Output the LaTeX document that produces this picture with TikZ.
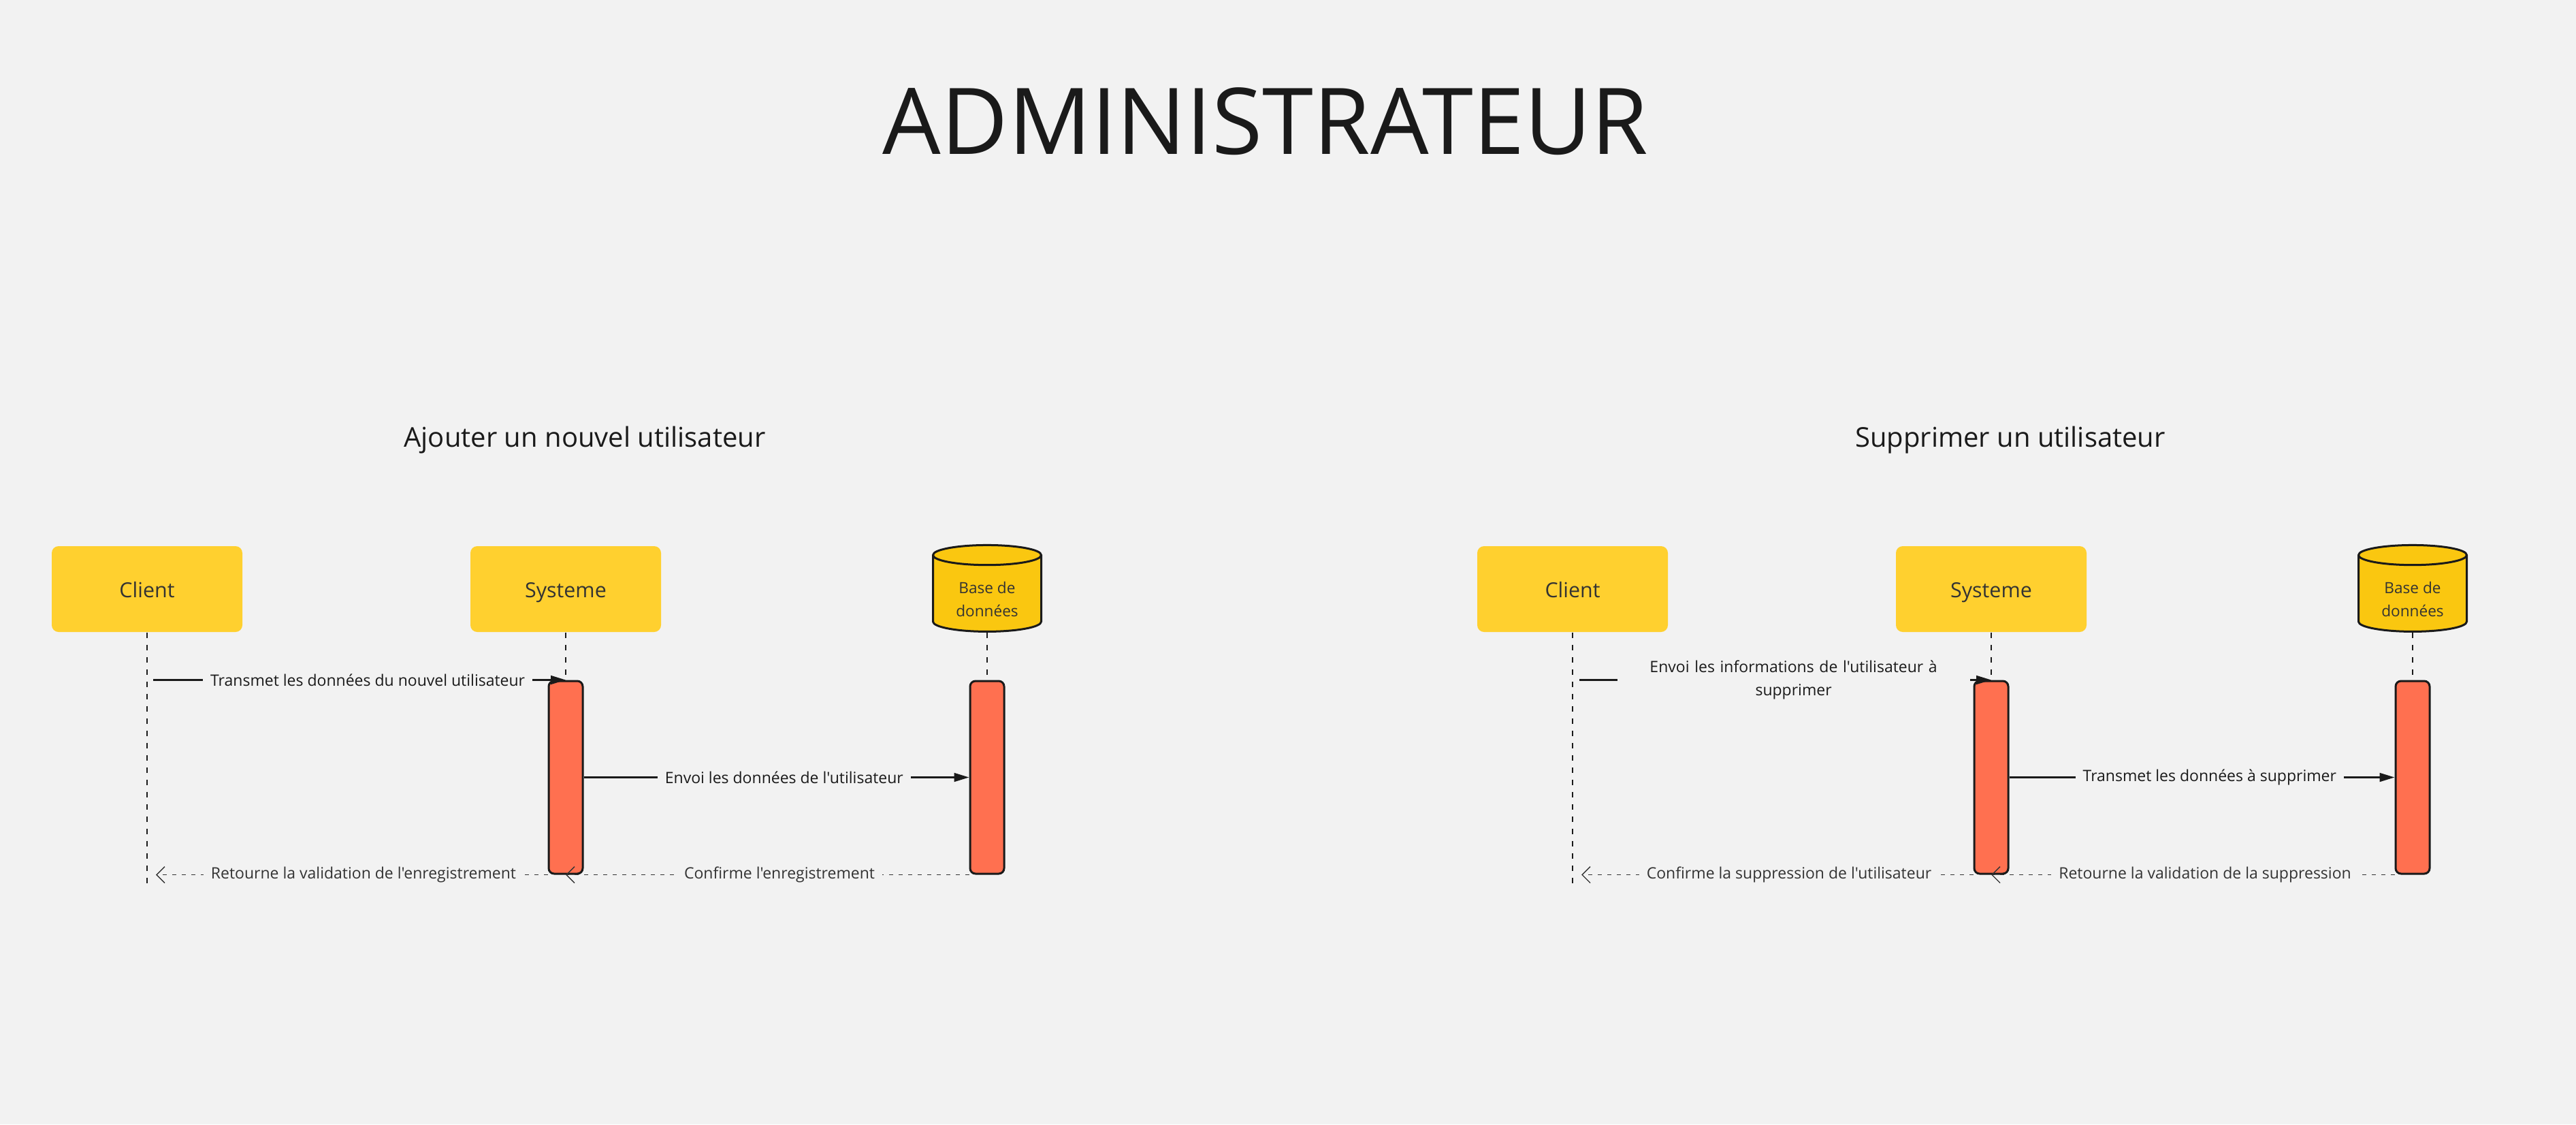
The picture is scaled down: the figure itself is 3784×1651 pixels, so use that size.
\documentclass[tikz,border=0pt]{standalone}
\usepackage{fontspec}
\setmainfont{Open Sans}[Ligatures=TeXOff]
\usetikzlibrary{shapes.geometric,arrows.meta}

\definecolor{fond}{HTML}{F2F2F2}
\definecolor{jaune}{HTML}{FFD02F}
\definecolor{jaunebd}{HTML}{FAC710}
\definecolor{corail}{HTML}{FF7050}
\definecolor{encre}{HTML}{1A1A1A}
\definecolor{gris}{HTML}{333333}

\begin{document}
\begin{tikzpicture}[x=0.25pt,y=-0.25pt,
  acteur/.style={fill=jaune, rounded corners=2.5pt, minimum width=70pt,
    minimum height=31.5pt, text=gris, text height=6.5pt, text depth=0.5pt,
    font=\fontsize{7.6pt}{9pt}\selectfont},
  bdd/.style={cylinder, shape border rotate=90, aspect=0.32, draw=encre,
    line width=0.75pt, fill=jaunebd, minimum width=39.75pt, minimum height=31.75pt,
    inner sep=0pt, text=gris, font=\fontsize{5.65pt}{8.5pt}\selectfont},
  activation/.style={draw=encre, line width=0.75pt, fill=corail, rounded corners=2pt,
    minimum width=12.5pt, minimum height=70.75pt, inner sep=0pt},
  vie/.style={encre, line width=0.45pt, dash pattern=on 2pt off 2.5pt},
  msg/.style={encre, line width=0.6pt, -{Triangle[length=5.5pt,width=3.2pt]}},
  retour/.style={gris, line width=0.35pt, dash pattern=on 1.5pt off 2pt,
    -{Straight Barb[length=3pt,width=6pt,line width=0.35pt]}},
  etiq/.style={fill=fond, inner xsep=2.75pt, inner ysep=1pt, text=encre,
    font=\fontsize{5.75pt}{8.5pt}\selectfont},
]

% Fond
\fill[fond] (0,0) rectangle (3784,1651);
\useasboundingbox (0,0) rectangle (3784,1651);

% Titre
\node[anchor=base, text=encre, font=\fontsize{33.8pt}{40pt}\selectfont] (titre)
at (1859,226) {ADMINISTRATEUR};

% ---- Ajouter un nouvel utilisateur ----
\node[anchor=base, text=encre, font=\fontsize{10pt}{12pt}\selectfont] (titreA)
at (859,656) {Ajouter un nouvel utilisateur};

\node[acteur] (cliA) at (216,865) {Client};
\node[acteur] (sysA) at (831,865) {Systeme};
\node[bdd] (bddA) at (1450,872)
{\raisebox{-2.5pt}[\height][\depth]{\begin{tabular}{@{}c@{}}Base de\\données\end{tabular}}};

\node[activation] (actsysA) at (831,1141.5) {};
\node[activation] (actbddA) at (1450,1141.5) {};

\coordinate (finA) at (216,1298);

% Lignes de vie
\draw[vie] (cliA.south) -- (finA);
\draw[vie] (sysA.south) -- (actsysA.north);
\draw[vie] (bddA.south) -- (actbddA.north);

% Messages
\draw[msg] ([xshift=2.25pt]cliA.south |- actsysA.north) -- (actsysA.north)
node[etiq, pos=0.52] {Transmet les données du nouvel utilisateur};
\draw[msg] (actsysA.east) -- (actbddA.west)
node[etiq, pos=0.52] {Envoi les données de l'utilisateur};
\draw[retour] (actbddA.south west) -- (actsysA.south)
node[etiq, text=gris, pos=0.47] {Confirme l'enregistrement};
\draw[retour] (actsysA.south west) -- ([xshift=3.25pt]cliA.south |- actsysA.south)
node[etiq, text=gris, pos=0.47] {Retourne la validation de l'enregistrement};

% ---- Supprimer un utilisateur ----
\node[anchor=base, text=encre, font=\fontsize{10pt}{12pt}\selectfont] (titreS)
at (2953,656) {Supprimer un utilisateur};

\node[acteur] (cliS) at (2310,865) {Client};
\node[acteur] (sysS) at (2925,865) {Systeme};
\node[bdd] (bddS) at (3544,872)
{\raisebox{-2.5pt}[\height][\depth]{\begin{tabular}{@{}c@{}}Base de\\données\end{tabular}}};

\node[activation] (actsysS) at (2925,1141.5) {};
\node[activation] (actbddS) at (3544,1141.5) {};

\coordinate (finS) at (2310,1298);

% Lignes de vie
\draw[vie] (cliS.south) -- (finS);
\draw[vie] (sysS.south) -- (actsysS.north);
\draw[vie] (bddS.south) -- (actbddS.north);

% Messages
\draw[msg] ([xshift=2.5pt]cliS.south |- actsysS.north) -- (actsysS.north)
node[etiq, pos=0.52, text width=124pt, align=center]
{Envoi les informations de l'utilisateur à\\supprimer};
\draw[msg] (actsysS.east) -- (actbddS.west)
node[etiq, pos=0.52] {Transmet les données à supprimer};
\draw[retour] (actbddS.south west) -- (actsysS.south)
node[etiq, text=gris, pos=0.47] {Retourne la validation de la suppression};
\draw[retour] (actsysS.south west) -- ([xshift=3.25pt]cliS.south |- actsysS.south)
node[etiq, text=gris, pos=0.47] {Confirme la suppression de l'utilisateur};

\end{tikzpicture}
\end{document}
